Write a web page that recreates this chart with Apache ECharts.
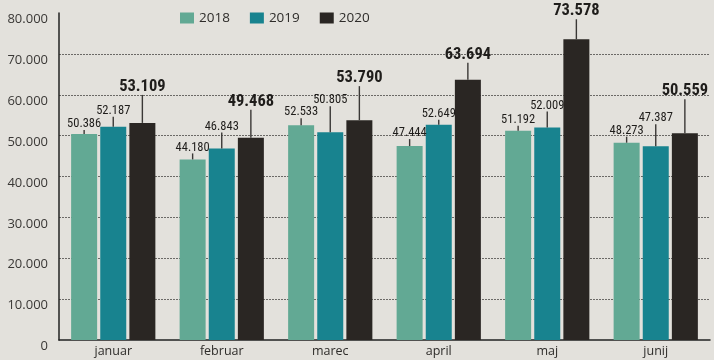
<!DOCTYPE html>
<html>
<head>
<meta charset="utf-8">
<script src="https://cdn.jsdelivr.net/npm/echarts@6/dist/echarts.min.js"></script>
<style>
html,body{margin:0;padding:0;background:#e3e1dc;}
#c{width:714px;height:360px;}
</style>
</head>
<body>
<div id="c"></div>
<script>
const categories = ['januar', 'februar', 'marec', 'april', 'maj', 'junij'];
const seriesNames = ['2018', '2019', '2020'];
const values2018 = [50386, 44180, 52533, 47444, 51192, 48273];
const values2019 = [52187, 46843, 50805, 52649, 52009, 47387];
const values2020 = [53109, 49468, 53790, 63694, 73578, 50559];
const yTickValues = [0, 10000, 20000, 30000, 40000, 50000, 60000, 70000, 80000];

// leader line lengths (px) from bar top to label
const leader2018 = [4, 6, 7, 7, 5, 6];
const leader2019 = [10, 16, 26, 5, 16, 22];
const leader2020 = [28, 28, 34, 17, 20, 34];

const colors = ['#62a994', '#18838f', '#2a2623'];
const narrow = '"Roboto Condensed", "Liberation Sans Narrow", "DejaVu Sans Condensed", sans-serif';

function fmt(v) {
  return String(v).replace(/\B(?=(\d{3})+(?!\d))/g, '.');
}

function makeSeries(name, values, leaders, color, big) {
  return {
    name: name,
    type: 'bar',
    barWidth: 26,
    barGap: '12%',
    itemStyle: { color: color },
    data: values.map(function (v, i) {
      return {
        value: v,
        label: {
          show: true,
          position: 'top',
          distance: 0,
          formatter: '{v|' + fmt(v) + '}\n{l| }',
          rich: {
            v: {
              fontFamily: narrow,
              fontSize: big ? 16.5 : 12.5,
              fontWeight: big ? 'bold' : 'normal',
              color: '#1f1d1b',
              lineHeight: big ? 16 : 12,
              align: 'center'
            },
            l: {
              width: 1.4,
              height: leaders[i],
              lineHeight: leaders[i],
              backgroundColor: '#3a3836',
              fontSize: 1,
              align: 'center'
            }
          }
        }
      };
    })
  };
}

const gridColor = '#6b6966';
const splitColors = yTickValues.map(function (t, i) {
  return (i === 0 || i === yTickValues.length - 1) ? 'rgba(0,0,0,0)' : gridColor;
});

const chart = echarts.init(document.getElementById('c'));
chart.setOption({
  backgroundColor: '#e3e1dc',
  animation: false,
  legend: {
    data: seriesNames,
    left: 180,
    top: 11,
    padding: 0,
    icon: 'rect',
    itemWidth: 14,
    itemHeight: 11,
    itemGap: 20,
    textStyle: { fontFamily: '"Open Sans", sans-serif', fontSize: 13.5, color: '#2e2c2a' }
  },
  grid: { left: 59, right: 4, top: 13, bottom: 20, containLabel: false },
  xAxis: {
    type: 'category',
    data: categories,
    axisLine: { lineStyle: { color: '#222', width: 1.5 } },
    axisTick: { show: false },
    axisLabel: { fontFamily: '"Open Sans", sans-serif', fontSize: 12.5, color: '#2e2c2a', margin: 5 }
  },
  yAxis: {
    type: 'value',
    min: 0,
    max: 80000,
    interval: 10000,
    axisLine: { show: true, lineStyle: { color: '#222', width: 1.5 } },
    axisTick: { show: false },
    splitLine: { show: true, lineStyle: { type: [2, 1], width: 1, color: splitColors } },
    axisLabel: {
      fontFamily: '"Open Sans", sans-serif',
      fontSize: 13,
      color: '#3a3836',
      margin: 11,
      verticalAlign: 'top',
      lineHeight: 13,
      formatter: function (v) { return fmt(v); }
    }
  },
  series: [
    makeSeries(seriesNames[0], values2018, leader2018, colors[0], false),
    makeSeries(seriesNames[1], values2019, leader2019, colors[1], false),
    makeSeries(seriesNames[2], values2020, leader2020, colors[2], true)
  ]
});
</script>
</body>
</html>
